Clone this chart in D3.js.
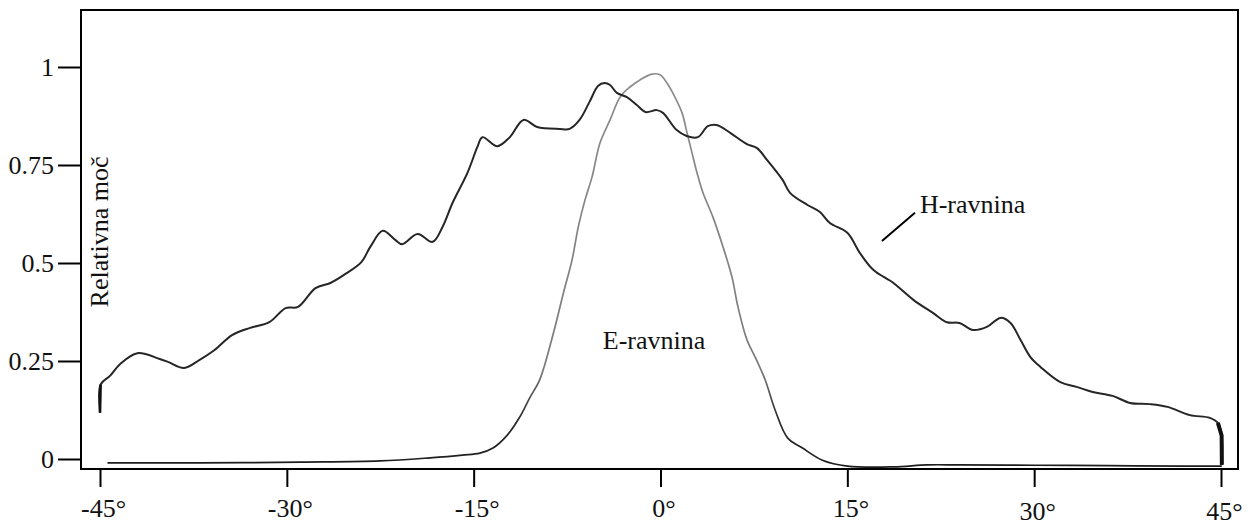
<!DOCTYPE html>
<html>
<head>
<meta charset="utf-8">
<script src="https://cdn.jsdelivr.net/npm/d3@7"></script>
<style>
  html, body { margin: 0; padding: 0; background: #fff; }
  svg text { font-family: "Liberation Serif", "DejaVu Serif", serif; fill: #111; }
</style>
</head>
<body>
<svg id="chart" width="1249" height="526"></svg>
<script>
// ---- data (angle in degrees, relative power) ----
const xTicks = [-45, -30, -15, 0, 15, 30, 45];
const xTickLabels = ["-45°", "-30°", "-15°", "0°", "15°", "30°", "45°"];
const yTicks = [0, 0.25, 0.5, 0.75, 1];
const yTickLabels = ["0", "0.25", "0.5", "0.75", "1"];
const yAxisTitle = "Relativna moč";
const seriesNames = ["H-ravnina", "E-ravnina"];

const hAngle = [-45.0,-44.95,-44.2,-43.4,-42.0,-40.2,-39.5,-38.25,-37.0,-35.8,-34.4,-33.0,-31.4,-30.1,-29.1,-27.7,-26.5,-25.2,-24.0,-23.3,-22.3,-21.3,-20.75,-19.5,-18.3,-17.5,-16.7,-15.5,-14.7,-14.3,-13.1,-12.1,-11.0,-9.9,-8.1,-7.3,-6.5,-5.7,-5.0,-4.5,-4.05,-3.5,-2.7,-1.9,-1.2,-0.3,0.2,1.3,2.1,3.0,3.8,4.5,5.6,6.9,7.75,8.55,9.8,10.4,11.8,12.8,13.6,15.0,16.0,17.1,18.7,20.3,21.9,23.0,24.0,25.1,26.2,27.3,28.1,28.9,29.7,30.5,32.1,33.4,34.7,36.3,37.7,39.3,40.7,42.5,44.1,44.75,45.05,45.07];
const hPower = [0.118,0.19,0.212,0.242,0.27,0.255,0.247,0.232,0.253,0.278,0.316,0.334,0.349,0.385,0.388,0.436,0.449,0.474,0.503,0.541,0.582,0.559,0.548,0.574,0.554,0.592,0.653,0.730,0.796,0.821,0.798,0.821,0.865,0.847,0.842,0.842,0.865,0.911,0.952,0.959,0.954,0.934,0.923,0.903,0.885,0.890,0.883,0.839,0.824,0.821,0.849,0.852,0.832,0.804,0.793,0.763,0.712,0.679,0.648,0.630,0.602,0.577,0.526,0.482,0.449,0.406,0.372,0.349,0.347,0.329,0.337,0.360,0.347,0.304,0.260,0.235,0.196,0.184,0.171,0.161,0.143,0.140,0.133,0.112,0.105,0.092,0.06,-0.015];

const eAngle = [-44.4,-37.0,-28.9,-22.5,-18.5,-15.9,-14.5,-13.45,-12.3,-11.3,-10.5,-9.7,-8.6,-7.8,-7.1,-6.6,-6.06,-5.5,-4.86,-4.05,-3.25,-2.45,-1.65,-0.68,-0.04,0.52,1.16,1.73,2.13,2.53,2.93,3.41,4.21,5.02,5.74,6.22,6.94,7.6,8.4,9.2,10.2,11.4,13.0,15.0,18.7,21.4,24.0,30.0,36.0,42.0,45.07];
const ePower = [-0.010,-0.010,-0.008,-0.005,0.003,0.010,0.015,0.028,0.061,0.107,0.156,0.202,0.321,0.423,0.508,0.592,0.661,0.719,0.806,0.865,0.923,0.949,0.967,0.982,0.980,0.959,0.923,0.883,0.832,0.781,0.730,0.679,0.617,0.541,0.464,0.388,0.304,0.26,0.202,0.125,0.054,0.028,-0.003,-0.018,-0.020,-0.015,-0.015,-0.016,-0.017,-0.018,-0.018];

// ---- layout ----
const svg = d3.select("#chart");
const box = { left: 81, top: 10, right: 1238, bottom: 469 };
const x = d3.scaleLinear().domain([-45, 45]).range([100, 1221]);
const y = d3.scaleLinear().domain([0, 1]).range([459, 67]);
const fontSize = 26;
const serif = '"Liberation Serif", "DejaVu Serif", serif';

// gradient for the E-plane trace (dark tails, faint gray middle)
const defs = svg.append("defs");
const grad = defs.append("linearGradient")
  .attr("id", "eGrad").attr("gradientUnits", "userSpaceOnUse")
  .attr("x1", 0).attr("y1", box.bottom).attr("x2", 0).attr("y2", 60);
grad.append("stop").attr("offset", 0).attr("stop-color", "#1c1c1c");
grad.append("stop").attr("offset", 0.12).attr("stop-color", "#2a2a2a");
grad.append("stop").attr("offset", 0.24).attr("stop-color", "#7a7a7a");
grad.append("stop").attr("offset", 1).attr("stop-color", "#8e8e8e");

// frame
svg.append("rect")
  .attr("x", box.left).attr("y", box.top)
  .attr("width", box.right - box.left).attr("height", box.bottom - box.top)
  .attr("fill", "none").attr("stroke", "#000").attr("stroke-width", 2);

// y axis
const yAxis = d3.axisLeft(y).tickValues(yTicks).tickSize(23).tickPadding(4)
  .tickFormat((d, i) => yTickLabels[i]);
const gy = svg.append("g").attr("transform", `translate(${box.left},0)`).call(yAxis)
  .attr("font-family", serif);
gy.select(".domain").remove();
gy.selectAll(".tick line").attr("stroke", "#000").attr("stroke-width", 2);
gy.selectAll(".tick text").style("font-size", fontSize + "px")
  .style("font-family", serif).attr("fill", "#111");

// x axis
const xAxis = d3.axisBottom(x).tickValues(xTicks).tickSize(18).tickPadding(12)
  .tickFormat((d, i) => xTickLabels[i]);
const gx = svg.append("g").attr("transform", `translate(0,${box.bottom})`).call(xAxis)
  .attr("font-family", serif);
gx.select(".domain").remove();
gx.selectAll(".tick line").attr("stroke", "#000").attr("stroke-width", 2);
gx.selectAll(".tick text").style("font-size", fontSize + "px")
  .style("font-family", serif).attr("fill", "#111")
  .attr("dx", 3)
  .attr("dy", d => (d >= 30 ? "0.8em" : "0.7em"));

// y title
svg.append("text")
  .attr("transform", `translate(108,232) rotate(-90)`)
  .attr("text-anchor", "middle")
  .style("font-size", fontSize + "px")
  .style("font-family", serif)
  .text(yAxisTitle);

// traces
const line = d3.line().x(d => x(d[0])).y(d => y(d[1])).curve(d3.curveCatmullRom.alpha(0.5));
const hData = hAngle.map((a, i) => [a, hPower[i]]);
const eData = eAngle.map((a, i) => [a, ePower[i]]);

svg.append("path").datum(eData).attr("d", line)
  .attr("fill", "none").attr("stroke", "url(#eGrad)").attr("stroke-width", 1.7)
  .attr("stroke-linejoin", "round");

svg.append("path").datum(hData).attr("d", line)
  .attr("fill", "none").attr("stroke", "#262626").attr("stroke-width", 2)
  .attr("stroke-linejoin", "round");

// heavy end stroke at +45°
svg.append("path").datum(hData.slice(-3)).attr("d", d3.line().x(d => x(d[0])).y(d => y(d[1])))
  .attr("fill", "none").attr("stroke", "#111").attr("stroke-width", 4);
// start stroke at -45°
svg.append("path").datum(hData.slice(0, 2)).attr("d", d3.line().x(d => x(d[0])).y(d => y(d[1])))
  .attr("fill", "none").attr("stroke", "#111").attr("stroke-width", 2.6);

// annotations
svg.append("line")
  .attr("x1", x(17.78)).attr("y1", y(0.556))
  .attr("x2", x(20.43)).attr("y2", y(0.628))
  .attr("stroke", "#000").attr("stroke-width", 2);
svg.append("text")
  .attr("x", x(20.83)).attr("y", y(0.628))
  .style("font-size", fontSize + "px")
  .style("font-family", serif)
  .text(seriesNames[0]);
svg.append("text")
  .attr("x", x(-0.52)).attr("y", y(0.28))
  .attr("text-anchor", "middle")
  .style("font-size", fontSize + "px")
  .style("font-family", serif)
  .text(seriesNames[1]);
</script>
</body>
</html>
